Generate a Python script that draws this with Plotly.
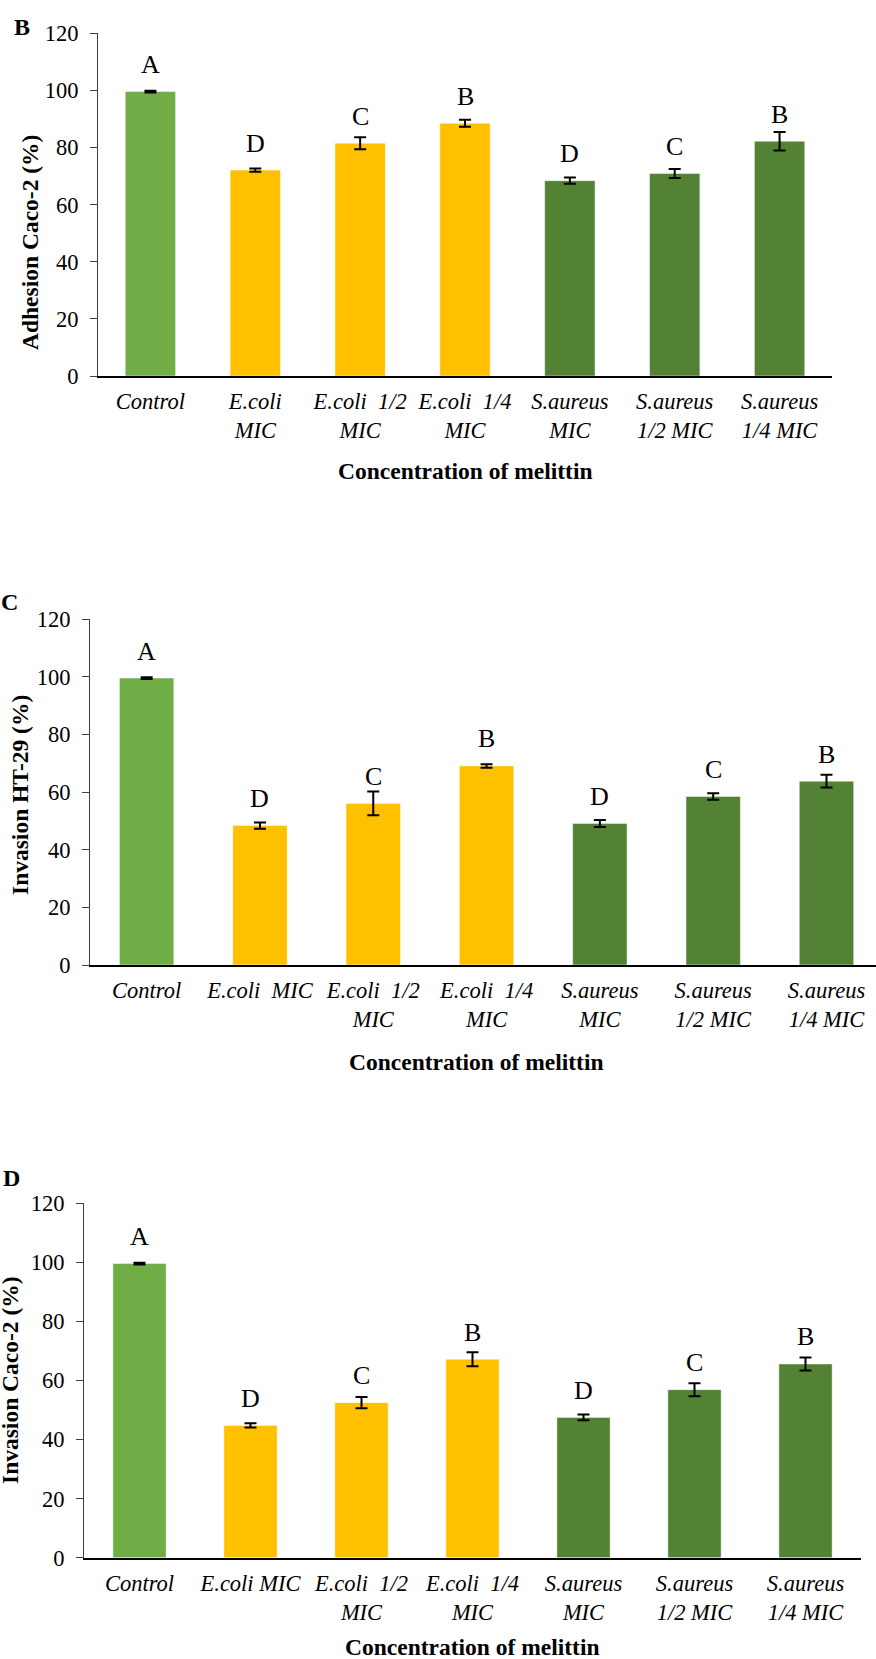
import plotly.graph_objects as go

# ---------------- data ----------------
categories_B = ["Control", "E.coli<br>MIC", "E.coli\u00a0\u00a01/2<br>MIC", "E.coli\u00a0\u00a01/4<br>MIC",
                "S.aureus<br>MIC", "S.aureus<br>1/2 MIC", "S.aureus<br>1/4 MIC"]
categories_C = ["Control", "E.coli\u00a0\u00a0MIC", "E.coli\u00a0\u00a01/2<br>MIC", "E.coli\u00a0\u00a01/4<br>MIC",
                "S.aureus<br>MIC", "S.aureus<br>1/2 MIC", "S.aureus<br>1/4 MIC"]
categories_D = ["Control", "E.coli MIC", "E.coli\u00a0\u00a01/2<br>MIC", "E.coli\u00a0\u00a01/4<br>MIC",
                "S.aureus<br>MIC", "S.aureus<br>1/2 MIC", "S.aureus<br>1/4 MIC"]

values_B = [99.6, 72.1, 81.5, 88.5, 68.4, 70.9, 82.2]
errors_B = [0.3, 0.6, 2.1, 1.2, 1.1, 1.6, 3.2]
values_C = [99.6, 48.4, 56.1, 69.1, 49.1, 58.5, 63.8]
errors_C = [0.3, 1.1, 4.1, 0.6, 1.2, 1.1, 2.2]
values_D = [99.6, 44.8, 52.5, 67.2, 47.5, 56.9, 65.6]
errors_D = [0.3, 0.7, 1.9, 2.4, 1.0, 2.2, 2.2]

letters = ["A", "D", "C", "B", "D", "C", "B"]
y_ticks = [0, 20, 40, 60, 80, 100, 120]

y_titles = ["Adhesion Caco-2 (%)", "Invasion HT-29 (%)", "Invasion Caco-2 (%)"]
x_title = "Concentration of melittin"
panel_labels = ["B", "C", "D"]

# ---------------- style ----------------
W, H = 876, 1659
bar_colors = ["#70AD47", "#FFC000", "#FFC000", "#FFC000", "#548235", "#548235", "#548235"]
FONT = "Liberation Serif, Times New Roman, serif"
TXT = 22.5
LET = 26
TTL = 23.5


def px_x(x):
    return x / W


def px_y(y):
    return 1 - y / H


panels = [
    dict(cats=categories_B, vals=values_B, errs=errors_B, x0=98, x1=832, top=33.3, bot=376,
         xrange=[-0.5, 6.5], ytitle_xy=(30, 243), xtitle_xy=(465, 471), label_xy=(22, 27)),
    dict(cats=categories_C, vals=values_C, errs=errors_C, x0=90, x1=876, top=619.3, bot=965,
         xrange=[-0.5, 6.437], ytitle_xy=(20, 795), xtitle_xy=(477, 1062), label_xy=(9, 602)),
    dict(cats=categories_D, vals=values_D, errs=errors_D, x0=84, x1=861, top=1203.3, bot=1557.7,
         xrange=[-0.5, 6.5], ytitle_xy=(10, 1380), xtitle_xy=(472, 1647), label_xy=(11, 1178)),
]

fig = go.Figure()
annotations = []

for i, p in enumerate(panels):
    n = "" if i == 0 else str(i + 1)
    fig.add_trace(go.Bar(
        x=p["cats"], y=p["vals"],
        marker=dict(color=bar_colors, line=dict(color="rgba(255,255,255,0.45)", width=1)),
        error_y=dict(type="data", array=p["errs"], visible=True, color="black", thickness=2, width=6),
        xaxis="x" + n, yaxis="y" + n, showlegend=False, hoverinfo="skip",
    ))
    fig.layout["xaxis" + n] = dict(
        domain=[px_x(p["x0"]), px_x(p["x1"])], anchor="y" + n,
        type="category", range=p["xrange"], automargin=False,
        showline=True, linecolor="black", linewidth=2, ticks="",
        showgrid=False, zeroline=False, tickangle=0,
        tickfont=dict(family=FONT, size=TXT, color="black", style="italic"),
        ticklabelstandoff=4,
    )
    fig.layout["yaxis" + n] = dict(
        domain=[px_y(p["bot"]), px_y(p["top"])], anchor="x" + n,
        range=[0, 120], tickvals=y_ticks, automargin=False,
        showline=True, linecolor="#404040", linewidth=1,
        ticks="outside", ticklen=7, tickcolor="#404040", tickwidth=1,
        showgrid=False, zeroline=False,
        tickfont=dict(family=FONT, size=TXT, color="black"),
        ticklabelstandoff=7,
    )
    for c, v, L in zip(p["cats"], p["vals"], letters):
        annotations.append(dict(
            x=c, y=v, xref="x" + n, yref="y" + n, text=L, showarrow=False,
            yanchor="middle", yshift=27,
            font=dict(family=FONT, size=LET, color="black"),
        ))
    tx, ty = p["ytitle_xy"]
    annotations.append(dict(
        x=px_x(tx), y=px_y(ty), xref="paper", yref="paper", text="<b>" + y_titles[i] + "</b>",
        showarrow=False, textangle=-90, xanchor="center", yanchor="middle",
        font=dict(family=FONT, size=TTL, color="black"),
    ))
    tx, ty = p["xtitle_xy"]
    annotations.append(dict(
        x=px_x(tx), y=px_y(ty), xref="paper", yref="paper", text="<b>" + x_title + "</b>",
        showarrow=False, xanchor="center", yanchor="middle",
        font=dict(family=FONT, size=TTL, color="black"),
    ))
    lx, ly = p["label_xy"]
    annotations.append(dict(
        x=px_x(lx), y=px_y(ly), xref="paper", yref="paper", text="<b>" + panel_labels[i] + "</b>",
        showarrow=False, xanchor="center", yanchor="middle",
        font=dict(family=FONT, size=24, color="black"),
    ))

fig.update_layout(
    template="none",
    width=W, height=H,
    margin=dict(l=0, r=0, t=0, b=0, autoexpand=False),
    paper_bgcolor="white", plot_bgcolor="white",
    bargap=0.52,
    annotations=annotations,
    font=dict(family=FONT, color="black"),
    hovermode=False,
)

fig.write_html("out.html",
               config={"displayModeBar": False, "staticPlot": True},
               post_script="document.body.style.margin='0px';document.body.style.overflow='hidden';")
